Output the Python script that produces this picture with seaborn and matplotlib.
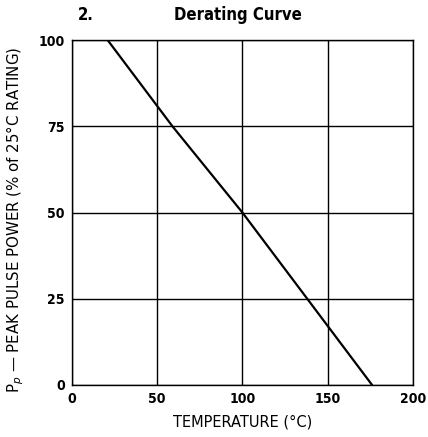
import seaborn as sns
import matplotlib.pyplot as plt
import pandas as pd

# Derating curve
temperature = [21, 59, 100, 138, 176]
peak_power = [100, 75, 50, 25, 0]

x_ticks = [0, 50, 100, 150, 200]
y_ticks = [0, 25, 50, 75, 100]

df = pd.DataFrame({'temp': temperature, 'power': peak_power})

sns.set_style('white')
plt.rcParams['font.family'] = ['DejaVu Sans']
plt.rcParams['text.color'] = 'black'
plt.rcParams['axes.labelcolor'] = 'black'
plt.rcParams['xtick.color'] = 'black'
plt.rcParams['ytick.color'] = 'black'

fig = plt.figure(figsize=(4.28, 4.37), dpi=100)
ax = fig.add_axes([0.168, 0.119, 0.797, 0.789])

sns.lineplot(data=df, x='temp', y='power', ax=ax, color='black', linewidth=1.6)

ax.set_xlim(0, 200)
ax.set_ylim(0, 100)
ax.set_xticks(x_ticks)
ax.set_yticks(y_ticks)
ax.grid(True, color='black', linewidth=1.0)
for s in ax.spines.values():
    s.set_color('black')
    s.set_linewidth(1.0)
ax.tick_params(length=0, labelsize=10, pad=5)
for lab in ax.get_xticklabels() + ax.get_yticklabels():
    lab.set_fontweight('bold')
    lab.set_fontstretch('condensed')

ax.set_xlabel('TEMPERATURE (°C)', fontsize=10.5, labelpad=6)
ax.set_ylabel('P$_p$ — PEAK PULSE POWER (% of 25°C RATING)', fontsize=10.8)
ax.yaxis.set_label_coords(-0.135, 0.48)

fig.text(0.2, 0.965, '2.', fontsize=12, fontweight='bold', ha='center', va='center',
         fontstretch='condensed')
fig.text(0.555, 0.965, 'Derating Curve', fontsize=12, fontweight='bold', ha='center',
         va='center', fontstretch='condensed')

fig.savefig('out.png', dpi=100)
